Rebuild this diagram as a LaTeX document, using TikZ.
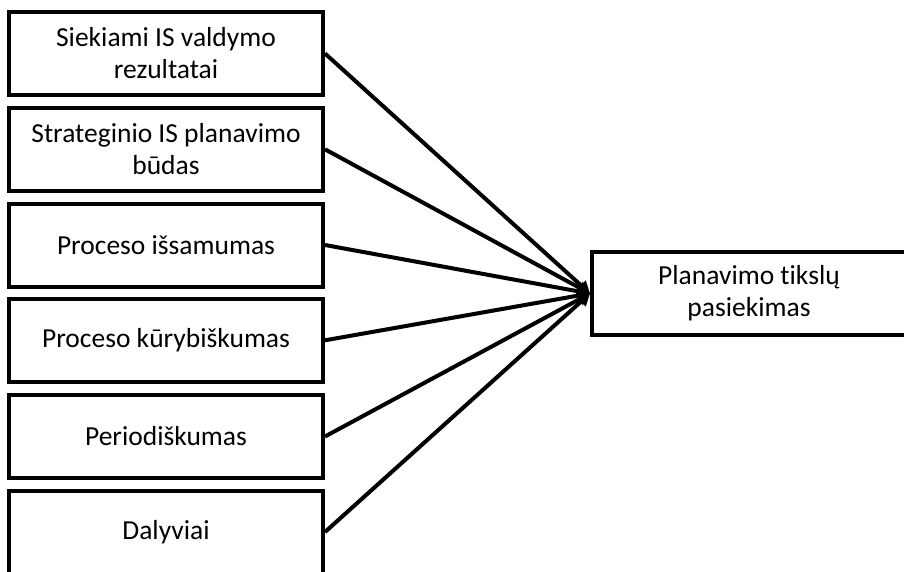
\documentclass[tikz,border=0pt]{standalone}
\usepackage{fontspec}
\setmainfont[Ligatures=NoCommon]{Carlito}
\usetikzlibrary{arrows.meta}
\tikzset{
  box/.style={draw=black, line width=4pt, fill=white, minimum width=314pt, minimum height=83pt,
    align=center, inner sep=0pt, font=\fontsize{27.5}{32}\selectfont, text=black},
  conn/.style={line width=4pt, -{Triangle[length=12pt,width=13pt]}}
}
\begin{document}
\begin{tikzpicture}[x=1pt,y=-1pt]
\useasboundingbox (0,0) rectangle (904,572);
\begin{scope}
\clip (0,0) rectangle (904,572);
\node[box] (b1) at (166,53.5) {Siekiami IS valdymo\\rezultatai};
\node[box] (b2) at (166,149.3) {Strateginio IS planavimo\\būdas};
\node[box] (b3) at (166,245) {Proceso išsamumas};
\node[box] (b4) at (166,340.3) {Proceso kūrybiškumas};
\node[box] (b5) at (166,436.5) {Periodiškumas};
\node[box] (b6) at (166,532) {Dalyviai};
\node[box] (r) at (749,293.5) {Planavimo tikslų\\pasiekimas};
\foreach \i in {1,...,6} {
  \draw[conn] (b\i.east) -- (r.west);
}
\end{scope}
\end{tikzpicture}
\end{document}
